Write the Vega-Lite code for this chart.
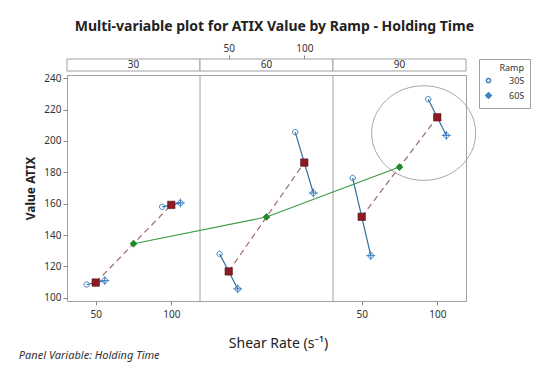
{
  "$schema": "https://vega.github.io/schema/vega-lite/v6.json",
  "background": "white",
  "padding": {"left": 18, "top": 20, "right": 5, "bottom": 5},
  "title": {"text": "Multi-variable plot for ATIX Value by Ramp - Holding Time", "fontSize": 14, "fontWeight": "bold", "font": "Noto Sans", "color": "#222", "anchor": "middle", "offset": 9},
  "datasets": {
    "obs": [
      {"hold": 30, "shear": 50, "ramp": "30S", "atix": 108.5},
      {"hold": 30, "shear": 50, "ramp": "60S", "atix": 111.0},
      {"hold": 30, "shear": 100, "ramp": "30S", "atix": 158.0},
      {"hold": 30, "shear": 100, "ramp": "60S", "atix": 160.5},
      {"hold": 60, "shear": 50, "ramp": "30S", "atix": 128.0},
      {"hold": 60, "shear": 50, "ramp": "60S", "atix": 105.7},
      {"hold": 60, "shear": 100, "ramp": "30S", "atix": 205.6},
      {"hold": 60, "shear": 100, "ramp": "60S", "atix": 166.8},
      {"hold": 90, "shear": 50, "ramp": "30S", "atix": 176.4},
      {"hold": 90, "shear": 50, "ramp": "60S", "atix": 126.9},
      {"hold": 90, "shear": 100, "ramp": "30S", "atix": 226.6},
      {"hold": 90, "shear": 100, "ramp": "60S", "atix": 203.5}
    ],
    "panels": [{"hold": 30}, {"hold": 60}, {"hold": 90}],
    "note": [{"hold": 90, "shear": 91, "atix": 205}]
  },
  "config": {
    "font": "Noto Sans",
    "view": {"stroke": "#a0a0a0", "strokeWidth": 1},
    "axis": {"labelFontSize": 10, "labelColor": "#333", "tickColor": "#888", "domain": false, "grid": false, "tickSize": 4},
    "axisY": {"values": [100, 120, 140, 160, 180, 200, 220, 240], "labelOverlap": false},
    "legend": {"strokeColor": "#a0a0a0", "padding": 5, "titleFontSize": 9, "titleFontWeight": "normal", "labelFontSize": 9, "titleColor": "#333", "labelColor": "#333", "rowPadding": 2, "titlePadding": 3, "titleAnchor": "end"}
  },
  "spacing": 0,
  "vconcat": [
    {
      "width": 399,
      "height": 12,
      "view": {"stroke": null},
      "data": {"name": "panels"},
      "transform": [
        {"calculate": "(datum.hold / 30 - 1) * 88", "as": "gx0"},
        {"calculate": "datum.gx0 + 88", "as": "gx1"},
        {"calculate": "datum.gx0 + 44", "as": "gxm"}
      ],
      "layer": [
        {
          "mark": {"type": "rect", "fill": "white", "stroke": "#a0a0a0", "strokeWidth": 1},
          "encoding": {
            "x": {"field": "gx0", "type": "quantitative", "scale": {"domain": [0, 264], "nice": false, "zero": false},
                  "axis": {"orient": "top", "values": [107, 157], "labelExpr": "datum.value % 88 + 31", "title": null}},
            "x2": {"field": "gx1"}
          }
        },
        {
          "mark": {"type": "text", "fontSize": 10, "color": "#333"},
          "encoding": {
            "x": {"field": "gxm", "type": "quantitative",
                  "axis": {"orient": "top", "values": [107, 157], "labelExpr": "datum.value % 88 + 31", "title": null}},
            "text": {"field": "hold", "type": "nominal"}
          }
        }
      ]
    },
    {
      "width": 399,
      "height": 226,
      "title": {"text": "Panel Variable: Holding Time", "orient": "bottom", "anchor": "start", "frame": "bounds", "fontStyle": "italic", "fontSize": 11, "fontWeight": "normal", "color": "#333", "offset": 0, "dx": -6},
      "encoding": {
        "x": {"field": "gx", "type": "quantitative", "scale": {"domain": [0, 264], "nice": false, "zero": false},
              "axis": {"values": [19, 69, 195, 245], "labelExpr": "datum.value % 88 + 31", "title": "Shear Rate (s⁻¹)", "titleFontSize": 14, "titleFontWeight": "normal", "titleColor": "#222", "titlePadding": 17, "titleX": 211, "labelPadding": 4}}
      },
      "layer": [
        {
          "data": {"name": "panels"},
          "transform": [
            {"filter": "datum.hold > 30"},
            {"calculate": "(datum.hold / 30 - 1) * 88", "as": "gx"}
          ],
          "mark": {"type": "rule", "color": "#a0a0a0", "strokeWidth": 1}
        },
        {
          "data": {"name": "note"},
          "transform": [{"calculate": "(datum.hold / 30 - 1) * 88 + datum.shear - 31", "as": "gx"}],
          "mark": {"type": "point", "shape": "M -1 0 A 1 0.91 0 1 0 1 0 A 1 0.91 0 1 0 -1 0 Z", "size": 10816, "filled": false, "stroke": "#a8a8a8", "strokeWidth": 1, "opacity": 1},
          "encoding": {
            "y": {"field": "atix", "type": "quantitative", "scale": {"domain": [98, 242], "nice": false, "zero": false},
                  "axis": {"values": [100, 120, 140, 160, 180, 200, 220, 240], "title": "Value ATIX", "titleFontSize": 12, "titleFontWeight": "bold", "titleColor": "#222", "titlePadding": 6}}
          }
        },
        {
          "data": {"name": "obs"},
          "transform": [{"calculate": "(datum.hold / 30 - 1) * 88 + datum.shear - 31 + (datum.ramp == '30S' ? -6 : 6)", "as": "gx"}],
          "mark": {"type": "line", "color": "#2f6f9f", "strokeWidth": 1.2},
          "encoding": {
            "y": {"field": "atix", "type": "quantitative", "axis": {"values": [100, 120, 140, 160, 180, 200, 220, 240], "title": "Value ATIX"}},
            "detail": [{"field": "hold", "type": "nominal"}, {"field": "shear", "type": "nominal"}]
          }
        },
        {
          "data": {"name": "obs"},
          "transform": [
            {"aggregate": [{"op": "mean", "field": "atix", "as": "atix"}], "groupby": ["hold", "shear"]},
            {"calculate": "(datum.hold / 30 - 1) * 88 + datum.shear - 31", "as": "gx"}
          ],
          "mark": {"type": "line", "color": "#9b6b6b", "strokeWidth": 1.2, "strokeDash": [6, 4]},
          "encoding": {
            "y": {"field": "atix", "type": "quantitative", "axis": {"values": [100, 120, 140, 160, 180, 200, 220, 240], "title": "Value ATIX"}},
            "detail": {"field": "hold", "type": "nominal"}
          }
        },
        {
          "data": {"name": "obs"},
          "transform": [
            {"aggregate": [{"op": "mean", "field": "atix", "as": "atix"}, {"op": "mean", "field": "shear", "as": "shear"}], "groupby": ["hold"]},
            {"calculate": "(datum.hold / 30 - 1) * 88 + datum.shear - 31", "as": "gx"}
          ],
          "mark": {"type": "line", "color": "#3b9a44", "strokeWidth": 1.2},
          "encoding": {
            "y": {"field": "atix", "type": "quantitative", "axis": {"values": [100, 120, 140, 160, 180, 200, 220, 240], "title": "Value ATIX"}}
          }
        },
        {
          "data": {"name": "obs"},
          "transform": [{"calculate": "(datum.hold / 30 - 1) * 88 + datum.shear - 31 + (datum.ramp == '30S' ? -6 : 6)", "as": "gx"}],
          "mark": {"type": "point", "filled": false, "strokeWidth": 1, "opacity": 1, "size": 80},
          "encoding": {
            "y": {"field": "atix", "type": "quantitative", "axis": {"values": [100, 120, 140, 160, 180, 200, 220, 240], "title": "Value ATIX"}},
            "shape": {"field": "ramp", "type": "nominal", "title": "Ramp",
                      "scale": {"domain": ["30S", "60S"], "range": ["M -0.6 0 A 0.6 0.6 0 1 0 0.6 0 A 0.6 0.6 0 1 0 -0.6 0 Z", "M -0.6 0 A 0.6 0.6 0 1 0 0.6 0 A 0.6 0.6 0 1 0 -0.6 0 Z M -1 0 L 1 0 M 0 -1 L 0 1"]},
                      "legend": {"offset": 0, "symbolStrokeColor": "#3d7fbf", "symbolFillColor": "transparent", "symbolSize": 50, "labelOffset": 16}},
            "color": {"value": "#3d7fbf"}
          }
        },
        {
          "data": {"name": "obs"},
          "transform": [
            {"aggregate": [{"op": "mean", "field": "atix", "as": "atix"}], "groupby": ["hold", "shear"]},
            {"calculate": "(datum.hold / 30 - 1) * 88 + datum.shear - 31", "as": "gx"}
          ],
          "mark": {"type": "point", "shape": "square", "filled": true, "size": 55, "color": "#8b1c24", "stroke": "#5a1015", "strokeWidth": 0.6, "opacity": 1},
          "encoding": {
            "y": {"field": "atix", "type": "quantitative", "axis": {"values": [100, 120, 140, 160, 180, 200, 220, 240], "title": "Value ATIX"}}
          }
        },
        {
          "data": {"name": "obs"},
          "transform": [
            {"aggregate": [{"op": "mean", "field": "atix", "as": "atix"}, {"op": "mean", "field": "shear", "as": "shear"}], "groupby": ["hold"]},
            {"calculate": "(datum.hold / 30 - 1) * 88 + datum.shear - 31", "as": "gx"}
          ],
          "mark": {"type": "point", "shape": "diamond", "filled": true, "size": 60, "color": "#1e8a2a", "opacity": 1},
          "encoding": {
            "y": {"field": "atix", "type": "quantitative", "axis": {"values": [100, 120, 140, 160, 180, 200, 220, 240], "title": "Value ATIX"}}
          }
        }
      ]
    }
  ]
}
